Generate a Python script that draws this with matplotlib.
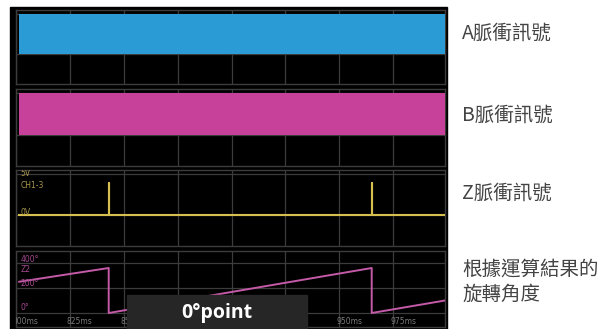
import matplotlib.pyplot as plt
from matplotlib.patches import Rectangle

W, H = 613, 329

# data read from the scope capture
grid_ms = [800, 825, 850, 875, 900, 925, 950, 975]
# 875ms / 900ms labels sit fully under the "0°point" box in the capture
tick_ms = [800, 825, 850, 925, 950, 975]
tick_labels = ["800ms", "825ms", "850ms", "925ms", "950ms", "975ms"]
t_start, t_end = 801.5, 999.0
pulse_low, pulse_high = 0, 5            # A / B pulse levels (V)
z_t = [801.5, 843, 843, 843, 965, 965, 965, 999]
z_v = [0, 0, 3.9, 0, 0, 3.9, 0, 0]
angle_t = [801.5, 843, 843, 965, 965, 999]
angle_deg = [250, 360, 0, 360, 0, 100]

labels = ["A脈衝訊號", "B脈衝訊號", "Z脈衝訊號", "根據運算結果的\n旋轉角度"]

GRID = "#3c3c3c"
BLUE = "#2b9bd6"
MAGENTA = "#c7409a"
YELLOW = "#d6bf4e"
PINK = "#c45aa8"


def px_axes(fig, x0, y0, x1, y1):
    return fig.add_axes([x0 / W, 1 - y1 / H, (x1 - x0) / W, (y1 - y0) / H])


fig = plt.figure(figsize=(W / 100, H / 100), dpi=100)
fig.patch.set_facecolor("white")

# black scope screen
fig.add_artist(Rectangle((10 / W, 0), (447 - 10) / W, 1 - 7 / H,
                         transform=fig.transFigure, color="black", zorder=0))

panels = [(10, 84), (89, 166), (170, 246), (251, 327)]
axes = []
for (y0, y1) in panels:
    ax = px_axes(fig, 16, y0, 445, y1)
    ax.set_facecolor("black")
    ax.set_xlim(t_start, t_end)
    ax.set_xticks(grid_ms)
    ax.tick_params(length=0, labelbottom=False, labelleft=False)
    ax.grid(True, color=GRID, lw=0.9)
    ax.set_axisbelow(True)
    for s in ax.spines.values():
        s.set_color(GRID)
        s.set_linewidth(1.0)
    axes.append(ax)

axA, axB, axC, axD = axes
for ax in (axA, axB, axC):
    ax.set_ylim(-3.7, 5.45)
    ax.set_yticks([pulse_low, pulse_high])

# A / B : dense quadrature pulses appear as solid bands
axA.fill_between([t_start, t_end], pulse_low, pulse_high, color=BLUE, lw=0, zorder=3)
axB.fill_between([t_start, t_end], pulse_low, pulse_high, color=MAGENTA, lw=0, zorder=3)

# Z pulse
axC.plot(z_t, z_v, color=YELLOW, lw=1.5, zorder=3)
txt = dict(fontsize=5.5, ha="left", va="center", clip_on=True)
axC.text(802, 5.0, "5V", color="#a8964a", **txt)
axC.text(802, 3.6, "CH1-3", color="#a8964a", **txt)
axC.text(802, 0.3, "0V", color="#a8964a", **txt)

# angle
axD.set_ylim(-112, 496)
axD.set_yticks([0, 200, 400])
axD.plot(angle_t, angle_deg, color=PINK, lw=1.4, zorder=3)
axD.text(802, 430, "400°", color="#a44a90", **txt)
axD.text(802, 345, "Z2", color="#a44a90", **txt)
axD.text(802, 235, "200°", color="#a44a90", **txt)
axD.text(802, 45, "0°", color="#a44a90", **txt)
for t, lab in zip(tick_ms, tick_labels):
    axD.text(t - 1.5, -72, lab, color="#7a7a7a", fontsize=5.5,
             ha="left", va="center", clip_on=True)

# overlay "0°point" box
fig.add_artist(Rectangle((127 / W, 0), (307 - 127) / W, (329 - 295) / H,
                         transform=fig.transFigure, color="#262626", zorder=10))
fig.text(217 / W, 1 - 313 / H, "0°point", color="white", fontsize=14,
         fontweight="bold", family=["Open Sans", "DejaVu Sans"],
         ha="center", va="center", zorder=11)

# right-hand captions
fam = ["Noto Sans CJK TC", "DejaVu Sans"]
caption_y = [33, 115, 193, 282]
for yc, lab in zip(caption_y, labels):
    fig.text(462 / W, 1 - yc / H, lab, color="#444444", fontsize=14,
             family=fam, ha="left", va="center", linespacing=1.25)

fig.savefig("out.png", dpi=100)
